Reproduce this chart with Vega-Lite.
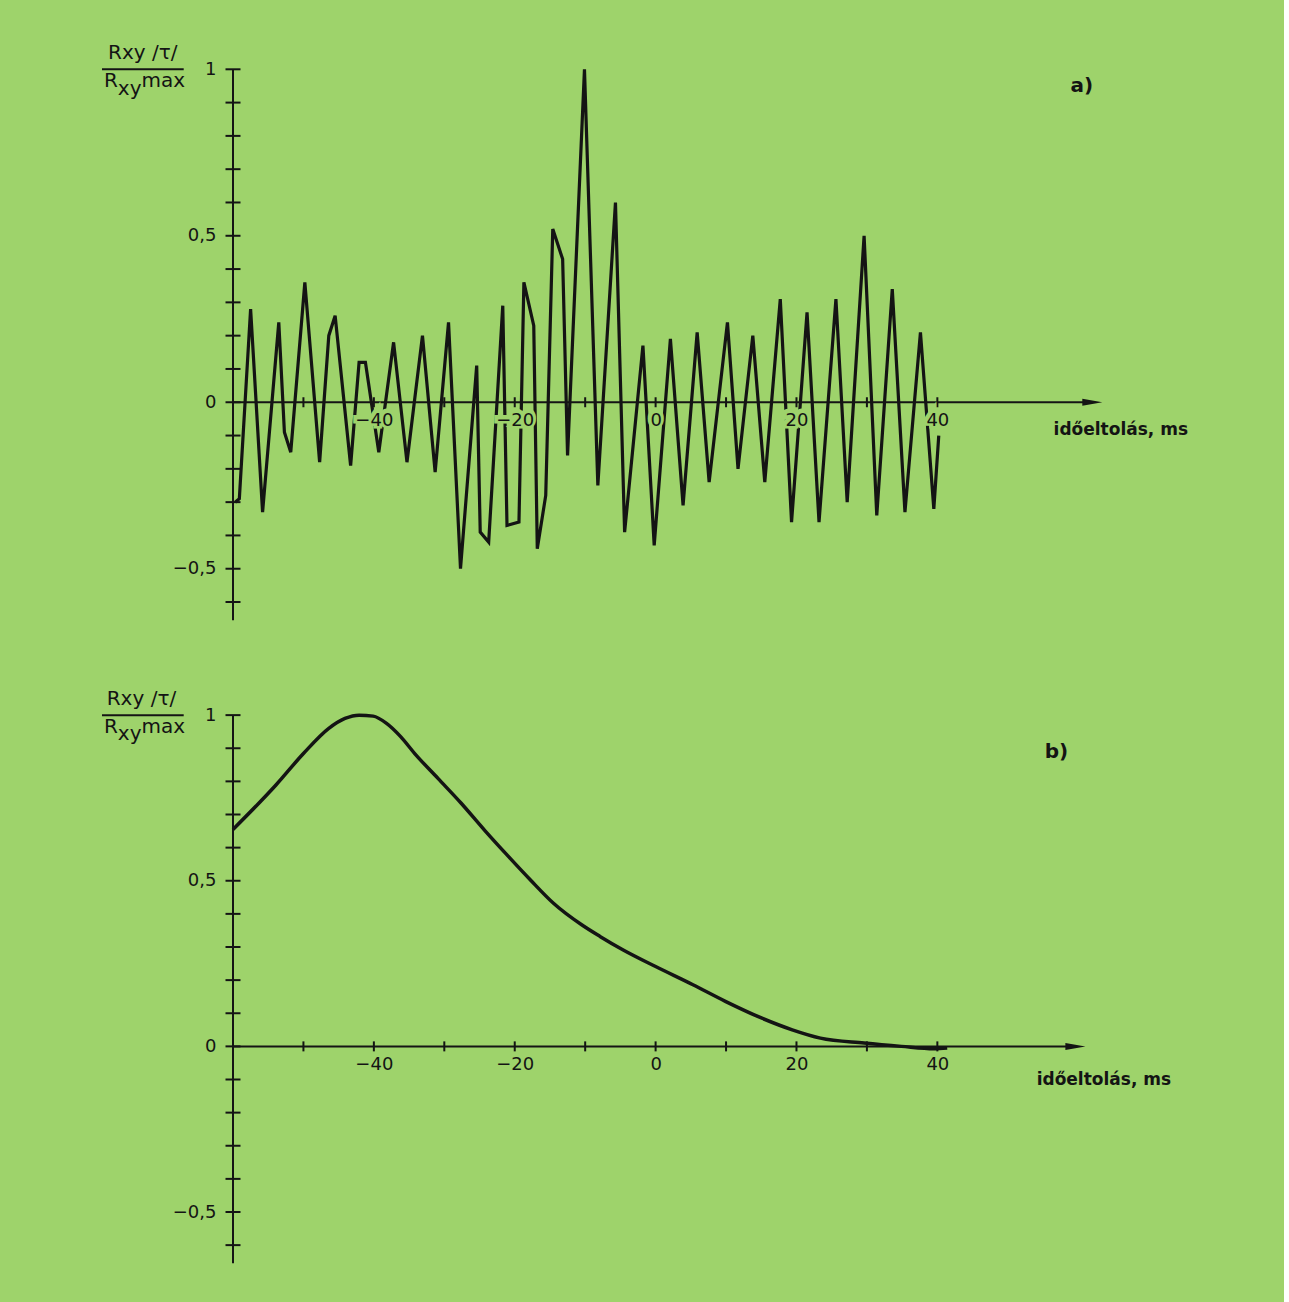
{
  "$schema": "https://vega.github.io/schema/vega-lite/v6.json",
  "background": "#9ed36b",
  "padding": {"left": 100, "top": 36, "right": 79, "bottom": 38},
  "spacing": 60,
  "config": {"view": {"stroke": null}, "font": "DejaVu Sans"},
  "datasets": {
    "one": [{}],
    "a": [
      {"t": -59.7, "r": -0.30}, {"t": -59.1, "r": -0.29}, {"t": -57.5, "r": 0.28}, {"t": -55.8, "r": -0.33},
      {"t": -53.5, "r": 0.24}, {"t": -52.7, "r": -0.09}, {"t": -51.8, "r": -0.15}, {"t": -49.8, "r": 0.36},
      {"t": -47.7, "r": -0.18}, {"t": -46.4, "r": 0.20}, {"t": -45.5, "r": 0.26}, {"t": -43.3, "r": -0.19},
      {"t": -42.1, "r": 0.12}, {"t": -41.2, "r": 0.12}, {"t": -39.3, "r": -0.15}, {"t": -37.2, "r": 0.18},
      {"t": -35.3, "r": -0.18}, {"t": -33.1, "r": 0.20}, {"t": -31.3, "r": -0.21}, {"t": -29.4, "r": 0.24},
      {"t": -27.7, "r": -0.50}, {"t": -25.4, "r": 0.11}, {"t": -24.9, "r": -0.39}, {"t": -23.7, "r": -0.42},
      {"t": -21.7, "r": 0.29}, {"t": -21.1, "r": -0.37}, {"t": -19.4, "r": -0.36}, {"t": -18.7, "r": 0.36},
      {"t": -17.3, "r": 0.23}, {"t": -16.8, "r": -0.44}, {"t": -15.6, "r": -0.28}, {"t": -14.6, "r": 0.52},
      {"t": -13.2, "r": 0.43}, {"t": -12.5, "r": -0.16}, {"t": -10.1, "r": 1.0}, {"t": -8.2, "r": -0.25},
      {"t": -5.7, "r": 0.60}, {"t": -4.4, "r": -0.39}, {"t": -1.8, "r": 0.17}, {"t": -0.2, "r": -0.43},
      {"t": 2.1, "r": 0.19}, {"t": 3.9, "r": -0.31}, {"t": 5.9, "r": 0.21}, {"t": 7.6, "r": -0.24},
      {"t": 10.2, "r": 0.24}, {"t": 11.7, "r": -0.20}, {"t": 13.8, "r": 0.20}, {"t": 15.5, "r": -0.24},
      {"t": 17.7, "r": 0.31}, {"t": 19.3, "r": -0.36}, {"t": 21.5, "r": 0.27}, {"t": 23.2, "r": -0.36},
      {"t": 25.6, "r": 0.31}, {"t": 27.2, "r": -0.30}, {"t": 29.6, "r": 0.50}, {"t": 31.4, "r": -0.34},
      {"t": 33.6, "r": 0.34}, {"t": 35.4, "r": -0.33}, {"t": 37.6, "r": 0.21}, {"t": 39.5, "r": -0.32},
      {"t": 40.2, "r": -0.10}
    ],
    "b": [
      {"t": -60, "r": 0.655}, {"t": -53.9, "r": 0.789}, {"t": -50.0, "r": 0.884}, {"t": -46.4, "r": 0.960},
      {"t": -44.1, "r": 0.990}, {"t": -42.1, "r": 1.0}, {"t": -40.1, "r": 0.997}, {"t": -38.2, "r": 0.975},
      {"t": -36.2, "r": 0.935}, {"t": -34.2, "r": 0.884}, {"t": -30.9, "r": 0.809}, {"t": -27.6, "r": 0.734},
      {"t": -24.3, "r": 0.653}, {"t": -21.1, "r": 0.578}, {"t": -17.8, "r": 0.503}, {"t": -14.5, "r": 0.432},
      {"t": -10.5, "r": 0.367}, {"t": -7.9, "r": 0.332}, {"t": -4.6, "r": 0.291}, {"t": 0, "r": 0.241},
      {"t": 5.3, "r": 0.186}, {"t": 9.9, "r": 0.136}, {"t": 15.1, "r": 0.085}, {"t": 19.4, "r": 0.05},
      {"t": 23.4, "r": 0.025}, {"t": 29.6, "r": 0.01}, {"t": 34.9, "r": 0.0}, {"t": 39.5, "r": -0.007},
      {"t": 41.4, "r": -0.005}
    ],
    "yt": [
      {"v": -0.6}, {"v": -0.5}, {"v": -0.4}, {"v": -0.3}, {"v": -0.2}, {"v": -0.1}, {"v": 0}, {"v": 0.1},
      {"v": 0.2}, {"v": 0.3}, {"v": 0.4}, {"v": 0.5}, {"v": 0.6}, {"v": 0.7}, {"v": 0.8}, {"v": 0.9}, {"v": 1.0}
    ],
    "xt": [
      {"v": -50}, {"v": -40}, {"v": -30}, {"v": -20}, {"v": -10}, {"v": 0}, {"v": 10}, {"v": 20}, {"v": 30}, {"v": 40}
    ],
    "xl": [
      {"v": -40, "s": "−40"}, {"v": -20, "s": "−20"}, {"v": 0, "s": "0"}, {"v": 20, "s": "20"}, {"v": 40, "s": "40"}
    ]
  },
  "vconcat": [
    {
      "width": 972,
      "height": 586,
      "layer": [
        {
          "data": {"name": "a"},
          "mark": {"type": "line", "color": "#141414", "strokeWidth": 3.2, "strokeJoin": "miter"},
          "encoding": {
            "x": {"field": "t", "type": "quantitative", "scale": {"domain": [-60, 78], "nice": false, "zero": false}, "axis": {"orient": "bottom", "offset": -219.75, "values": [-40, -20, 0, 20, 40], "domain": false, "ticks": false, "tickSize": 0, "grid": false, "title": null, "labelFont": "DejaVu Sans", "labelFontSize": 18, "labelColor": "#141414", "labelPadding": 9, "labelExpr": "format(datum.value, 'd')", "zindex": 1}},
            "y": {"field": "r", "type": "quantitative", "scale": {"domain": [-0.66, 1.1], "nice": false, "zero": false}, "axis": {"orient": "left", "values": [-0.5, 0, 0.5, 1], "domain": false, "ticks": false, "tickSize": 0, "grid": false, "title": null, "labelFont": "DejaVu Sans", "labelFontSize": 18, "labelColor": "#141414", "labelPadding": 17, "labelExpr": "replace(format(datum.value, '~g'), '.', ',')"}}
          }
        },
        {
          "data": {"name": "one"},
          "mark": {"type": "rule", "strokeWidth": 2, "color": "#141414"},
          "encoding": {
            "x": {"datum": -60, "type": "quantitative"},
            "y": {"datum": -0.655, "type": "quantitative"},
            "y2": {"datum": 1.0}
          }
        },
        {
          "data": {"name": "one"},
          "mark": {"type": "rule", "strokeWidth": 2, "color": "#141414"},
          "encoding": {
            "x": {"datum": -60, "type": "quantitative"},
            "x2": {"datum": 61.5},
            "y": {"datum": 0, "type": "quantitative"}
          }
        },
        {
          "data": {"name": "yt"},
          "mark": {"type": "tick", "orient": "horizontal", "size": 15, "thickness": 2, "color": "#141414", "opacity": 1},
          "encoding": {
            "x": {"datum": -60, "type": "quantitative"},
            "y": {"field": "v", "type": "quantitative"}
          }
        },
        {
          "data": {"name": "xt"},
          "mark": {"type": "tick", "orient": "vertical", "size": 10, "thickness": 2, "color": "#141414", "opacity": 1},
          "encoding": {
            "x": {"field": "v", "type": "quantitative"},
            "y": {"datum": 0, "type": "quantitative"}
          }
        },
        {
          "data": {"name": "one"},
          "mark": {"type": "point", "shape": "M -1 -0.35 L 1 0 L -1 0.35 Z", "size": 400, "filled": true, "color": "#141414", "opacity": 1, "strokeWidth": 0},
          "encoding": {
            "x": {"datum": 62, "type": "quantitative"},
            "y": {"datum": 0, "type": "quantitative"}
          }
        },
        {
          "data": {"name": "xl"},
          "mark": {"type": "text", "font": "DejaVu Sans", "fontSize": 18, "align": "center", "baseline": "top", "dy": 9, "fill": "#9ed36b", "stroke": "#9ed36b", "strokeWidth": 7},
          "encoding": {
            "x": {"field": "v", "type": "quantitative"},
            "y": {"datum": 0, "type": "quantitative"},
            "text": {"field": "s"}
          }
        },
        {
          "data": {"name": "one"},
          "mark": {"type": "text", "font": "DejaVu Sans", "fontSize": 20, "align": "center", "baseline": "alphabetic", "color": "#141414"},
          "encoding": {"x": {"datum": -72.8, "type": "quantitative"}, "y": {"datum": 1.032, "type": "quantitative"}, "text": {"value": "Rxy /τ/"}}
        },
        {
          "data": {"name": "one"},
          "mark": {"type": "rule", "strokeWidth": 2, "color": "#141414"},
          "encoding": {"x": {"datum": -78.6, "type": "quantitative"}, "x2": {"datum": -67.0}, "y": {"datum": 1.0, "type": "quantitative"}}
        },
        {
          "data": {"name": "one"},
          "mark": {"type": "text", "font": "DejaVu Sans", "fontSize": 20, "align": "left", "baseline": "alphabetic", "color": "#141414"},
          "encoding": {"x": {"datum": -78.3, "type": "quantitative"}, "y": {"datum": 0.946, "type": "quantitative"}, "text": {"value": "R"}}
        },
        {
          "data": {"name": "one"},
          "mark": {"type": "text", "font": "DejaVu Sans", "fontSize": 20, "align": "left", "baseline": "alphabetic", "color": "#141414"},
          "encoding": {"x": {"datum": -76.35, "type": "quantitative"}, "y": {"datum": 0.924, "type": "quantitative"}, "text": {"value": "xy"}}
        },
        {
          "data": {"name": "one"},
          "mark": {"type": "text", "font": "DejaVu Sans", "fontSize": 20, "align": "left", "baseline": "alphabetic", "color": "#141414"},
          "encoding": {"x": {"datum": -73.0, "type": "quantitative"}, "y": {"datum": 0.946, "type": "quantitative"}, "text": {"value": "max"}}
        },
        {
          "data": {"name": "one"},
          "mark": {"type": "text", "font": "DejaVu Sans", "fontSize": 20, "fontWeight": "bold", "align": "center", "baseline": "middle", "color": "#141414"},
          "encoding": {"x": {"datum": 60.5, "type": "quantitative"}, "y": {"datum": 0.95, "type": "quantitative"}, "text": {"value": "a)"}}
        },
        {
          "data": {"name": "one"},
          "mark": {"type": "text", "font": "DejaVu Sans", "fontSize": 17, "fontWeight": "bold", "align": "left", "baseline": "middle", "color": "#141414"},
          "encoding": {"x": {"datum": 56.5, "type": "quantitative"}, "y": {"datum": -0.084, "type": "quantitative"}, "text": {"value": "időeltolás, ms"}}
        }
      ]
    },
    {
      "width": 972,
      "height": 583,
      "layer": [
        {
          "data": {"name": "b"},
          "mark": {"type": "line", "color": "#141414", "strokeWidth": 3.5, "interpolate": "monotone"},
          "encoding": {
            "x": {"field": "t", "type": "quantitative", "scale": {"domain": [-60, 78], "nice": false, "zero": false}, "axis": {"orient": "bottom", "offset": -218.625, "values": [-40, -20, 0, 20, 40], "domain": false, "ticks": false, "tickSize": 0, "grid": false, "title": null, "labelFont": "DejaVu Sans", "labelFontSize": 18, "labelColor": "#141414", "labelPadding": 9, "labelExpr": "format(datum.value, 'd')", "zindex": 1}},
            "y": {"field": "r", "type": "quantitative", "scale": {"domain": [-0.66, 1.1], "nice": false, "zero": false}, "axis": {"orient": "left", "values": [-0.5, 0, 0.5, 1], "domain": false, "ticks": false, "tickSize": 0, "grid": false, "title": null, "labelFont": "DejaVu Sans", "labelFontSize": 18, "labelColor": "#141414", "labelPadding": 17, "labelExpr": "replace(format(datum.value, '~g'), '.', ',')"}}
          }
        },
        {
          "data": {"name": "one"},
          "mark": {"type": "rule", "strokeWidth": 2, "color": "#141414"},
          "encoding": {
            "x": {"datum": -60, "type": "quantitative"},
            "y": {"datum": -0.655, "type": "quantitative"},
            "y2": {"datum": 1.0}
          }
        },
        {
          "data": {"name": "one"},
          "mark": {"type": "rule", "strokeWidth": 2, "color": "#141414"},
          "encoding": {
            "x": {"datum": -60, "type": "quantitative"},
            "x2": {"datum": 59},
            "y": {"datum": 0, "type": "quantitative"}
          }
        },
        {
          "data": {"name": "yt"},
          "mark": {"type": "tick", "orient": "horizontal", "size": 15, "thickness": 2, "color": "#141414", "opacity": 1},
          "encoding": {
            "x": {"datum": -60, "type": "quantitative"},
            "y": {"field": "v", "type": "quantitative"}
          }
        },
        {
          "data": {"name": "xt"},
          "mark": {"type": "tick", "orient": "vertical", "size": 10, "thickness": 2, "color": "#141414", "opacity": 1},
          "encoding": {
            "x": {"field": "v", "type": "quantitative"},
            "y": {"datum": 0, "type": "quantitative"}
          }
        },
        {
          "data": {"name": "one"},
          "mark": {"type": "point", "shape": "M -1 -0.35 L 1 0 L -1 0.35 Z", "size": 400, "filled": true, "color": "#141414", "opacity": 1, "strokeWidth": 0},
          "encoding": {
            "x": {"datum": 59.6, "type": "quantitative"},
            "y": {"datum": 0, "type": "quantitative"}
          }
        },
        {
          "data": {"name": "one"},
          "mark": {"type": "text", "font": "DejaVu Sans", "fontSize": 20, "align": "center", "baseline": "alphabetic", "color": "#141414"},
          "encoding": {"x": {"datum": -73.0, "type": "quantitative"}, "y": {"datum": 1.032, "type": "quantitative"}, "text": {"value": "Rxy /τ/"}}
        },
        {
          "data": {"name": "one"},
          "mark": {"type": "rule", "strokeWidth": 2, "color": "#141414"},
          "encoding": {"x": {"datum": -78.6, "type": "quantitative"}, "x2": {"datum": -67.0}, "y": {"datum": 1.0, "type": "quantitative"}}
        },
        {
          "data": {"name": "one"},
          "mark": {"type": "text", "font": "DejaVu Sans", "fontSize": 20, "align": "left", "baseline": "alphabetic", "color": "#141414"},
          "encoding": {"x": {"datum": -78.3, "type": "quantitative"}, "y": {"datum": 0.946, "type": "quantitative"}, "text": {"value": "R"}}
        },
        {
          "data": {"name": "one"},
          "mark": {"type": "text", "font": "DejaVu Sans", "fontSize": 20, "align": "left", "baseline": "alphabetic", "color": "#141414"},
          "encoding": {"x": {"datum": -76.35, "type": "quantitative"}, "y": {"datum": 0.924, "type": "quantitative"}, "text": {"value": "xy"}}
        },
        {
          "data": {"name": "one"},
          "mark": {"type": "text", "font": "DejaVu Sans", "fontSize": 20, "align": "left", "baseline": "alphabetic", "color": "#141414"},
          "encoding": {"x": {"datum": -73.0, "type": "quantitative"}, "y": {"datum": 0.946, "type": "quantitative"}, "text": {"value": "max"}}
        },
        {
          "data": {"name": "one"},
          "mark": {"type": "text", "font": "DejaVu Sans", "fontSize": 20, "fontWeight": "bold", "align": "center", "baseline": "middle", "color": "#141414"},
          "encoding": {"x": {"datum": 56.9, "type": "quantitative"}, "y": {"datum": 0.888, "type": "quantitative"}, "text": {"value": "b)"}}
        },
        {
          "data": {"name": "one"},
          "mark": {"type": "text", "font": "DejaVu Sans", "fontSize": 17, "fontWeight": "bold", "align": "left", "baseline": "middle", "color": "#141414"},
          "encoding": {"x": {"datum": 54.1, "type": "quantitative"}, "y": {"datum": -0.103, "type": "quantitative"}, "text": {"value": "időeltolás, ms"}}
        }
      ]
    }
  ]
}
